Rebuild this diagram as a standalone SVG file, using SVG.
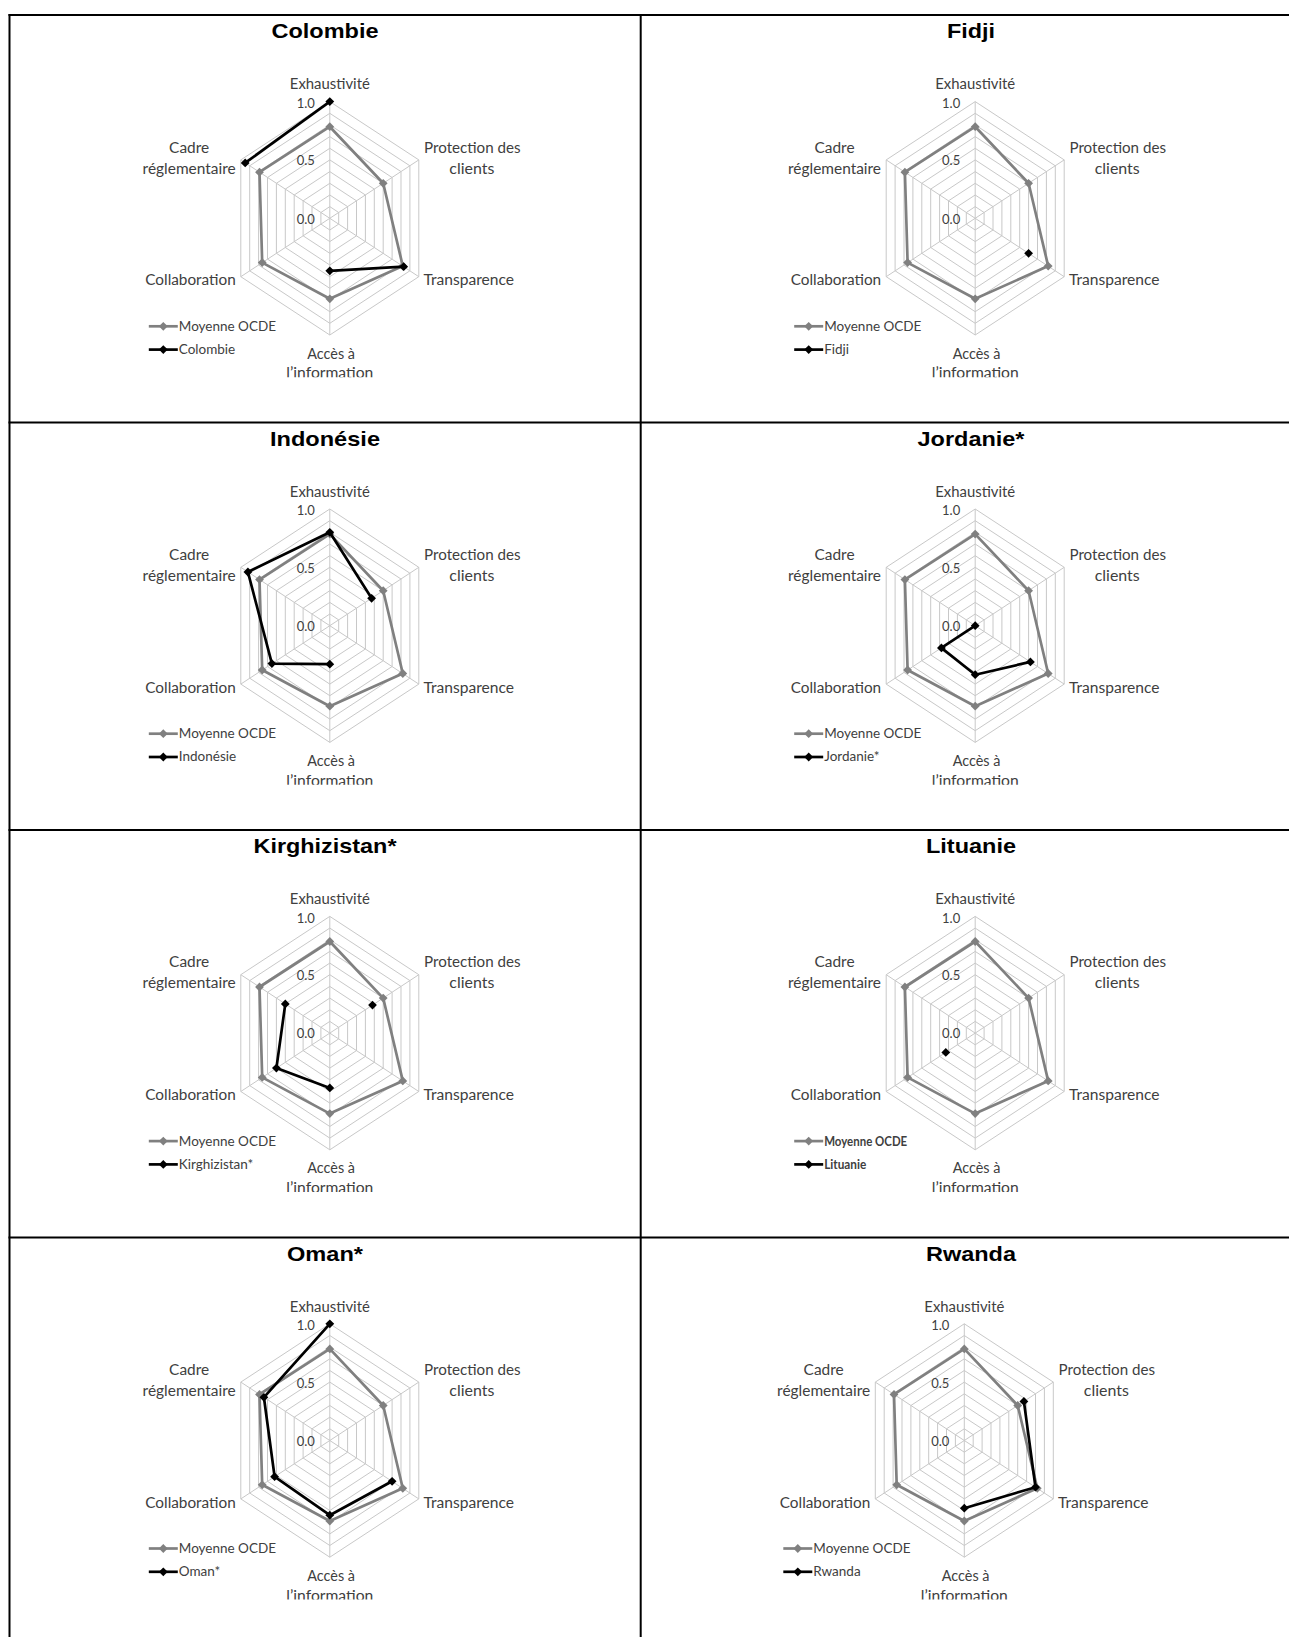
<svg xmlns="http://www.w3.org/2000/svg" width="1289" height="1637" viewBox="0 0 1289 1637">
<style>
.grid{fill:none;stroke:#c8c8c8;stroke-width:1}
.lbl{font-family:Lato,"Open Sans",sans-serif;font-size:15.5px;fill:#404040;text-anchor:middle}
.tick{font-family:Lato,"Open Sans",sans-serif;font-size:13px;fill:#404040;text-anchor:end}
.leg{font-family:Lato,"Open Sans",sans-serif;font-size:13.5px;fill:#404040}
.title{font-family:"Liberation Sans",Arial,sans-serif;font-weight:bold;font-size:21px;fill:#000;text-anchor:middle}
.oecd{fill:none;stroke:#808080;stroke-width:2.7;stroke-linejoin:round}
.ctry{fill:none;stroke:#000;stroke-width:2.7;stroke-linejoin:round}
.gm{fill:#808080}
.bm{fill:#000}
.border{stroke:#000;stroke-width:2;fill:none}
</style>
<defs>
<path id="dm" d="M0,-4.4 L4.4,0 L0,4.4 L-4.4,0Z"/>
<clipPath id="chartclip" clipPathUnits="userSpaceOnUse"><rect x="-200" y="-200" width="400" height="359"/></clipPath>
<g id="radar">
<g class="grid">
<polygon points="0,-11.7 8.9,-5.8 8.9,5.8 0,11.7 -8.9,5.8 -8.9,-5.8"/>
<polygon points="0,-23.3 17.8,-11.7 17.8,11.7 0,23.3 -17.8,11.7 -17.8,-11.7"/>
<polygon points="0,-35 26.7,-17.5 26.7,17.5 0,35 -26.7,17.5 -26.7,-17.5"/>
<polygon points="0,-46.7 35.6,-23.3 35.6,23.3 0,46.7 -35.6,23.3 -35.6,-23.3"/>
<polygon points="0,-58.4 44.5,-29.2 44.5,29.2 0,58.4 -44.5,29.2 -44.5,-29.2"/>
<polygon points="0,-70 53.4,-35 53.4,35 0,70 -53.4,35 -53.4,-35"/>
<polygon points="0,-81.7 62.3,-40.8 62.3,40.8 0,81.7 -62.3,40.8 -62.3,-40.8"/>
<polygon points="0,-93.4 71.2,-46.7 71.2,46.7 0,93.4 -71.2,46.7 -71.2,-46.7"/>
<polygon points="0,-105 80.1,-52.5 80.1,52.5 0,105 -80.1,52.5 -80.1,-52.5"/>
<polygon points="0,-116.7 89,-58.4 89,58.4 0,116.7 -89,58.4 -89,-58.4"/>
<path d="M0,0V-116.7M0,0L89,-58.4M0,0L89,58.4M0,0V116.7M0,0L-89,58.4M0,0L-89,-58.4"/>
</g>
<text class="tick" x="-15" y="-110.5">1.0</text>
<text class="tick" x="-15" y="-53">0.5</text>
<text class="tick" x="-15" y="5.3">0.0</text>
<g clip-path="url(#chartclip)">
<text class="lbl" x="0" y="-129" textLength="80" lengthAdjust="spacingAndGlyphs">Exhaustivité</text>
<text class="lbl" x="-140.7" y="-65.7" textLength="40" lengthAdjust="spacingAndGlyphs">Cadre</text>
<text class="lbl" x="-140.7" y="-44.7" textLength="93" lengthAdjust="spacingAndGlyphs">réglementaire</text>
<text class="lbl" x="142.5" y="-65.7" textLength="96.5" lengthAdjust="spacingAndGlyphs">Protection des</text>
<text class="lbl" x="142" y="-44.7" textLength="45" lengthAdjust="spacingAndGlyphs">clients</text>
<text class="lbl" x="139" y="67" textLength="90.5" lengthAdjust="spacingAndGlyphs">Transparence</text>
<text class="lbl" x="-139.3" y="67" textLength="90.5" lengthAdjust="spacingAndGlyphs">Collaboration</text>
<text class="lbl" x="1.3" y="140.3" textLength="47.7" lengthAdjust="spacingAndGlyphs">Accès à</text>
<text class="lbl" x="0" y="160" textLength="87" lengthAdjust="spacingAndGlyphs">l’information</text>
</g>
<polygon class="oecd" points="0,-91.6 53.4,-35 73,47.8 0,80.5 -67.6,44.3 -70.3,-46.1"/>
<g class="gm">
<use href="#dm" x="0" y="-91.6"/><use href="#dm" x="53.4" y="-35"/><use href="#dm" x="73" y="47.8"/>
<use href="#dm" x="0" y="80.5"/><use href="#dm" x="-67.6" y="44.3"/><use href="#dm" x="-70.3" y="-46.1"/>
</g>
<line x1="-181" y1="108" x2="-152" y2="108" stroke="#808080" stroke-width="2.7"/>
<use href="#dm" x="-166.5" y="108" class="gm"/>
<line x1="-181" y1="131.3" x2="-152" y2="131.3" stroke="#000" stroke-width="2.7"/>
<use href="#dm" x="-166.5" y="131.3" class="bm"/>
</g>
</defs>

<g id="table-borders" class="border">
<line x1="8.5" y1="15" x2="1289" y2="15"/>
<line x1="8.5" y1="422.6" x2="1289" y2="422.6"/>
<line x1="8.5" y1="830" x2="1289" y2="830"/>
<line x1="8.5" y1="1237.4" x2="1289" y2="1237.4"/>
<line x1="9.5" y1="14" x2="9.5" y2="1637"/>
<line x1="640.7" y1="14" x2="640.7" y2="1637"/>
</g>

<g id="chart-colombie">
<text class="title" x="325" y="38" textLength="107" lengthAdjust="spacingAndGlyphs">Colombie</text>
<g transform="translate(329.8,218.3)">
<use href="#radar"/>
<polyline class="ctry" points="-84.6,-55.4 0,-116.7"/>
<polyline class="ctry" points="73.9,48.4 0,52.5"/>
<g class="bm"><use href="#dm" x="-84.6" y="-55.4"/><use href="#dm" x="0" y="-116.7"/><use href="#dm" x="73.9" y="48.4"/><use href="#dm" x="0" y="52.5"/></g>
<text class="leg" x="-151" y="112.5">Moyenne OCDE</text>
<text class="leg" x="-151" y="135.8">Colombie</text>
</g>
</g>

<g id="chart-fidji">
<text class="title" x="971" y="38" textLength="48" lengthAdjust="spacingAndGlyphs">Fidji</text>
<g transform="translate(975.2,218.3)">
<use href="#radar"/>
<g class="bm"><use href="#dm" x="53.4" y="35"/></g>
<text class="leg" x="-151" y="112.5">Moyenne OCDE</text>
<text class="leg" x="-151" y="135.8">Fidji</text>
</g>
</g>

<g id="chart-indonesie">
<text class="title" x="325" y="445.5" textLength="110" lengthAdjust="spacingAndGlyphs">Indonésie</text>
<g transform="translate(329.8,625.7)">
<use href="#radar"/>
<polyline class="ctry" points="0,38.5 -57.9,37.9 -81.9,-53.7 0,-93.4 41.8,-27.4"/>
<g class="bm"><use href="#dm" x="0" y="38.5"/><use href="#dm" x="-57.9" y="37.9"/><use href="#dm" x="-81.9" y="-53.7"/><use href="#dm" x="0" y="-93.4"/><use href="#dm" x="41.8" y="-27.4"/></g>
<text class="leg" x="-151" y="112.5">Moyenne OCDE</text>
<text class="leg" x="-151" y="135.8">Indonésie</text>
</g>
</g>

<g id="chart-jordanie">
<text class="title" x="971" y="445.5" textLength="107" lengthAdjust="spacingAndGlyphs">Jordanie*</text>
<g transform="translate(975.2,625.7)">
<use href="#radar"/>
<polyline class="ctry" points="55.2,36.2 0,49 -33.8,22.2 0,0"/>
<g class="bm"><use href="#dm" x="55.2" y="36.2"/><use href="#dm" x="0" y="49"/><use href="#dm" x="-33.8" y="22.2"/><use href="#dm" x="0" y="0"/></g>
<text class="leg" x="-151" y="112.5">Moyenne OCDE</text>
<text class="leg" x="-151" y="135.8">Jordanie*</text>
</g>
</g>

<g id="chart-kirghizistan">
<text class="title" x="325" y="853" textLength="143" lengthAdjust="spacingAndGlyphs">Kirghizistan*</text>
<g transform="translate(329.8,1033.1)">
<use href="#radar"/>
<polyline class="ctry" points="0,54.8 -53.4,35 -44.5,-29.2"/>
<g class="bm"><use href="#dm" x="0" y="54.8"/><use href="#dm" x="-53.4" y="35"/><use href="#dm" x="-44.5" y="-29.2"/><use href="#dm" x="42.7" y="-28"/></g>
<text class="leg" x="-151" y="112.5">Moyenne OCDE</text>
<text class="leg" x="-151" y="135.8">Kirghizistan*</text>
</g>
</g>

<g id="chart-lituanie">
<text class="title" x="971" y="853" textLength="90" lengthAdjust="spacingAndGlyphs">Lituanie</text>
<g transform="translate(975.2,1033.1)">
<use href="#radar"/>
<g class="bm"><use href="#dm" x="-29.4" y="19.3"/></g>
<text class="leg" x="-151" y="112.5" font-weight="bold" textLength="83" lengthAdjust="spacingAndGlyphs">Moyenne OCDE</text>
<text class="leg" x="-151" y="135.8" font-weight="bold" textLength="42" lengthAdjust="spacingAndGlyphs">Lituanie</text>
</g>
</g>

<g id="chart-oman">
<text class="title" x="325" y="1260.5" textLength="76" lengthAdjust="spacingAndGlyphs">Oman*</text>
<g transform="translate(329.8,1440.5)">
<use href="#radar"/>
<polyline class="ctry" points="62.3,40.8 0,74.7 -55.2,36.2 -65.9,-43.2 0,-116.7"/>
<g class="bm"><use href="#dm" x="62.3" y="40.8"/><use href="#dm" x="0" y="74.7"/><use href="#dm" x="-55.2" y="36.2"/><use href="#dm" x="-65.9" y="-43.2"/><use href="#dm" x="0" y="-116.7"/></g>
<text class="leg" x="-151" y="112.5">Moyenne OCDE</text>
<text class="leg" x="-151" y="135.8">Oman*</text>
</g>
</g>

<g id="chart-rwanda">
<text class="title" x="971" y="1260.5" textLength="90" lengthAdjust="spacingAndGlyphs">Rwanda</text>
<g transform="translate(964.3,1440.5)">
<use href="#radar"/>
<polyline class="ctry" points="59.6,-39.1 71.2,46.7 0,67.7"/>
<g class="bm"><use href="#dm" x="59.6" y="-39.1"/><use href="#dm" x="71.2" y="46.7"/><use href="#dm" x="0" y="67.7"/></g>
<text class="leg" x="-151" y="112.5">Moyenne OCDE</text>
<text class="leg" x="-151" y="135.8">Rwanda</text>
</g>
</g>
</svg>
